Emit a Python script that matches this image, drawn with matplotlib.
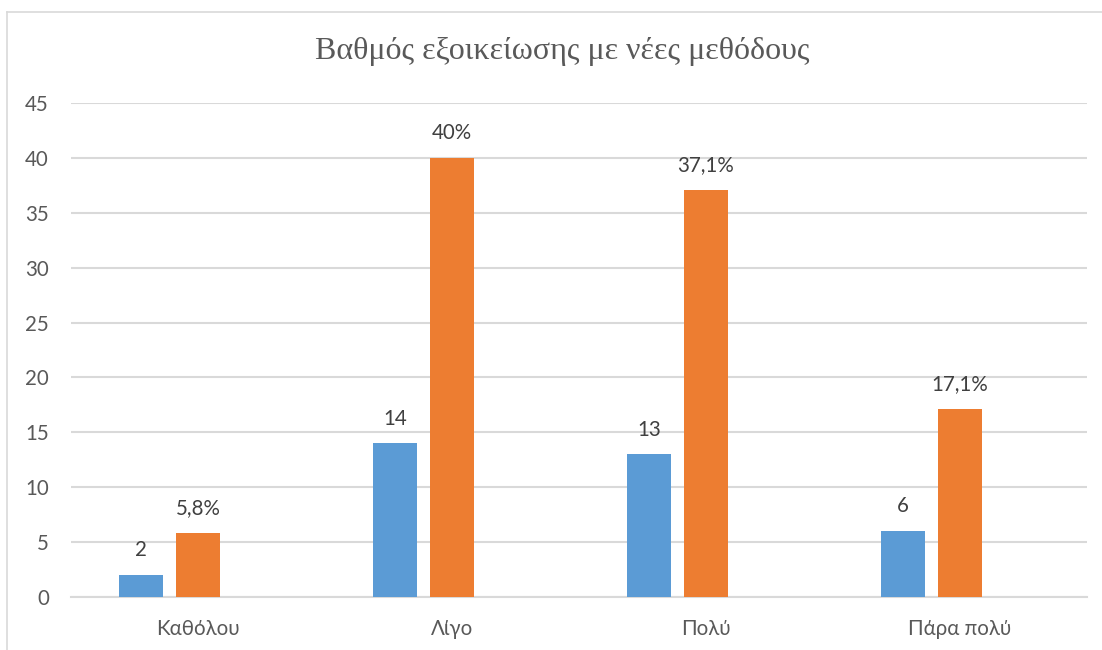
import matplotlib
matplotlib.use("Agg")
import matplotlib.pyplot as plt
from matplotlib.lines import Line2D
import numpy as np

categories = ["Καθόλου", "Λίγο", "Πολύ", "Πάρα πολύ"]
counts = [2, 14, 13, 6]
percents = [5.8, 40.0, 37.1, 17.1]
percent_labels = ["5,8%", "40%", "37,1%", "17,1%"]
title = "Βαθμός εξοικείωσης με νέες μεθόδους"

W, H = 1102, 650
fig = plt.figure(figsize=(W / 100, H / 100), dpi=100)
fig.patch.set_facecolor("white")

# outer chart frame
fig.add_artist(Line2D([7 / W, 1.0], [1 - 12 / H, 1 - 12 / H], transform=fig.transFigure,
                      color="#d9d9d9", lw=1.2))
fig.add_artist(Line2D([7 / W, 7 / W], [0.0, 1 - 12 / H], transform=fig.transFigure,
                      color="#d9d9d9", lw=1.2))

ax = fig.add_axes([71 / W, 1 - 597 / H, (1087 - 71) / W, (597 - 103) / H])

x = np.arange(len(categories))
width = 0.173
off = 0.224
blue = "#5b9bd5"
orange = "#ed7d31"
tick_font = "Lato"
fs = 14.8

ax.bar(x - off, counts, width, color=blue, zorder=3)
ax.bar(x, percents, width, color=orange, zorder=3)

for xi, v in zip(x - off, counts):
    ax.annotate(str(v), (xi, v), xytext=(0, 13.5), textcoords="offset points",
                ha="center", va="baseline", fontsize=fs, color="#404040", family=tick_font)
for xi, v, lab in zip(x, percents, percent_labels):
    ax.annotate(lab, (xi, v), xytext=(0, 13.5), textcoords="offset points",
                ha="center", va="baseline", fontsize=fs, color="#404040", family=tick_font)

ax.set_xlim(-0.5, len(categories) - 0.5)
ax.set_ylim(0, 45)
ax.set_yticks(np.arange(0, 46, 5))
ax.set_xticks(x)
ax.set_xticklabels(categories)
ax.yaxis.grid(True, color="#d9d9d9", lw=1.5, zorder=0)
ax.set_axisbelow(True)
for s in ["top", "right", "left"]:
    ax.spines[s].set_visible(False)
ax.spines["bottom"].set_color("#d9d9d9")
ax.spines["bottom"].set_linewidth(1.5)
ax.tick_params(axis="both", length=0, labelsize=fs, labelcolor="#595959")
ax.tick_params(axis="y", pad=16)
ax.tick_params(axis="x", pad=16)
for lab in ax.get_xticklabels() + ax.get_yticklabels():
    lab.set_family(tick_font)

fig.text(562 / W, 1 - 52 / H, title, ha="center", va="center",
         fontsize=23, color="#595959", family="Liberation Serif")

fig.savefig("out.png", dpi=100, facecolor="white")
